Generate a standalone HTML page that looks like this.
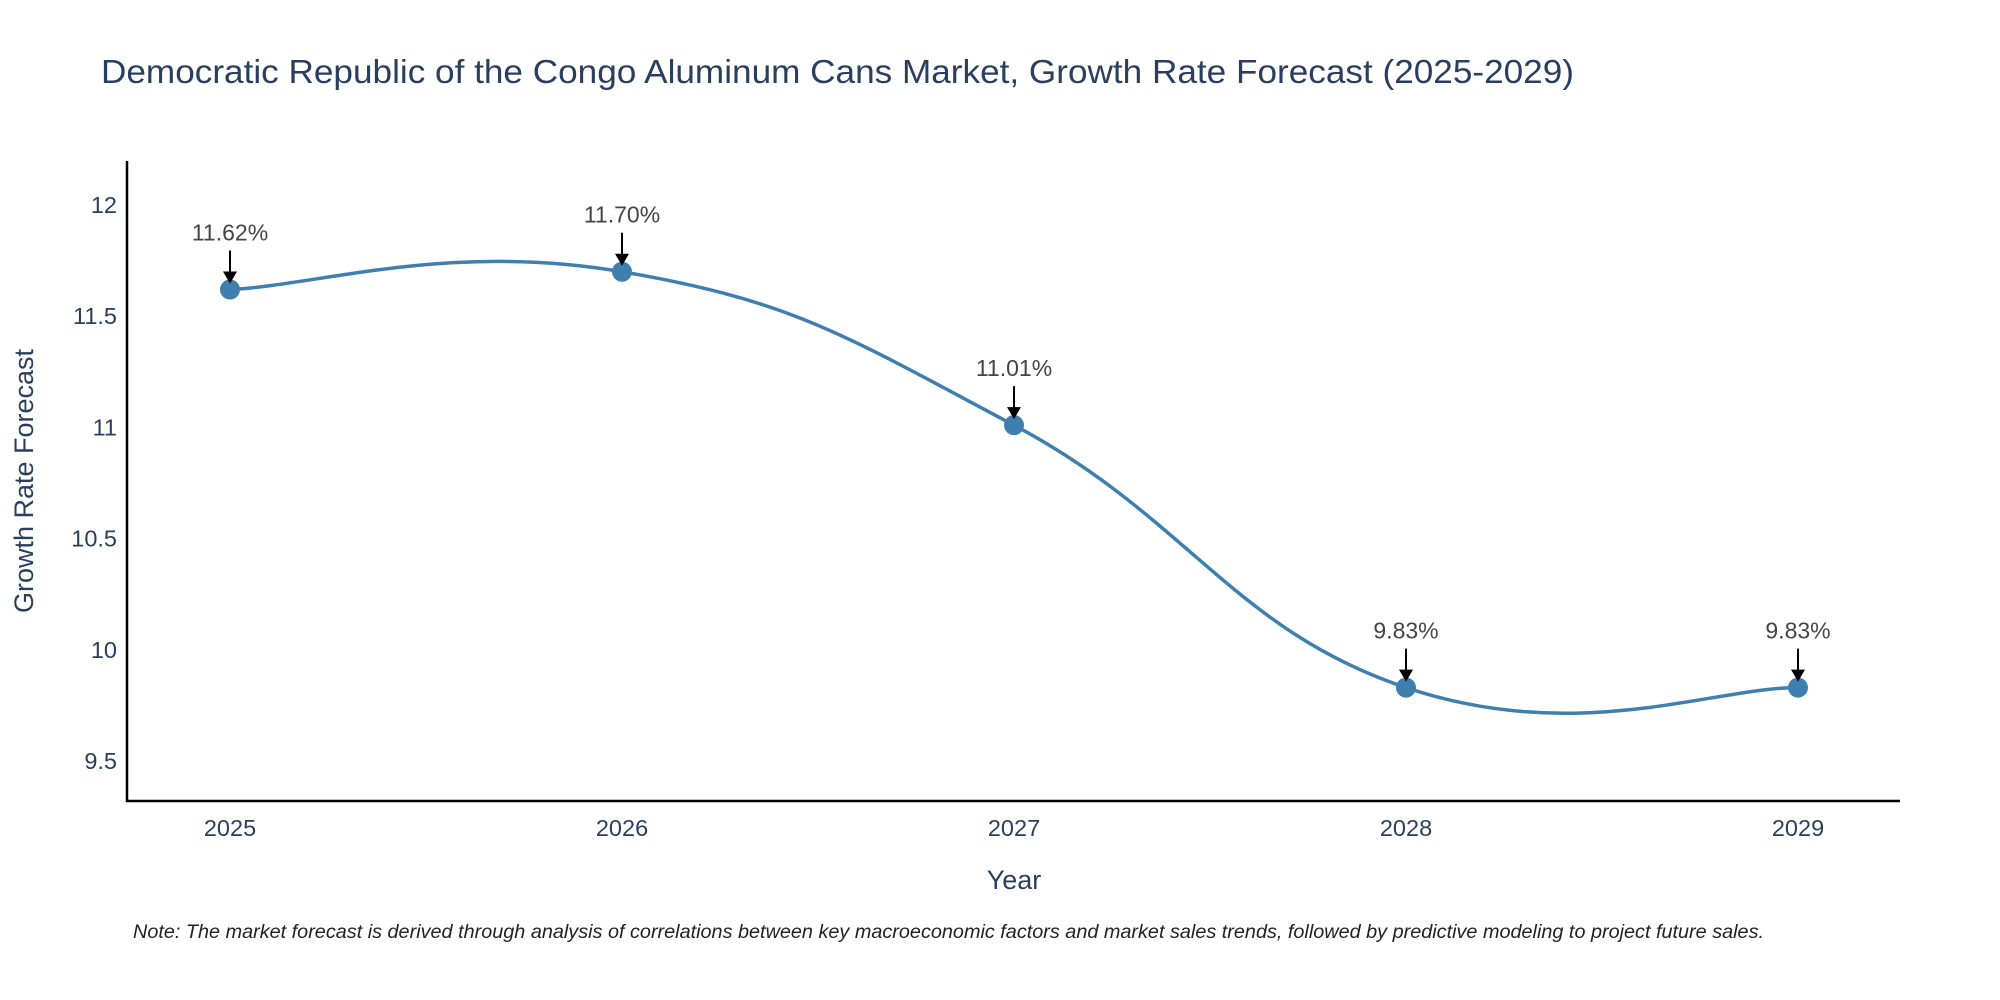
<!DOCTYPE html>
<html><head><meta charset="utf-8"><style>
html,body{margin:0;padding:0;background:#fff;}
svg{display:block;font-family:"Liberation Sans",sans-serif;}
</style></head><body>
<svg id="chart" width="2000" height="1000" viewBox="0 0 2000 1000">
<text x="101" y="83" font-size="33" fill="#2a3f5f" textLength="1473" lengthAdjust="spacingAndGlyphs">Democratic Republic of the Congo Aluminum Cans Market, Growth Rate Forecast (2025-2029)</text>
<g id="yticks"></g>
<g id="xticks"></g>
<line x1="127" y1="161" x2="127" y2="802" stroke="#000" stroke-width="2.5"/>
<line x1="126" y1="801" x2="1900" y2="801" stroke="#000" stroke-width="2.5"/>
<g id="series"></g>
<g id="annos"></g>
<text x="1014" y="889" font-size="27" fill="#2a3f5f" text-anchor="middle">Year</text>
<text transform="translate(33,481) rotate(-90)" font-size="27" fill="#2a3f5f" text-anchor="middle">Growth Rate Forecast</text>
<text x="133" y="938" font-size="19.5" font-style="italic" fill="#222" textLength="1631" lengthAdjust="spacingAndGlyphs">Note: The market forecast is derived through analysis of correlations between key macroeconomic factors and market sales trends, followed by predictive modeling to project future sales.</text>
</svg>
<script>
const categories = ["2025","2026","2027","2028","2029"];
const values = [11.62, 11.70, 11.01, 9.83, 9.83];
const valueLabels = ["11.62%","11.70%","11.01%","9.83%","9.83%"];
const yTicks = [9.5, 10, 10.5, 11, 11.5, 12];
const yTickLabels = ["9.5","10","10.5","11","11.5","12"];

const NS = "http://www.w3.org/2000/svg";
function xScale(i){ return 230 + i * 392; }
function yScale(v){ return 761 - (v - 9.5) * (556 / 2.5); }
function mk(tag, attrs, parent){
  const e = document.createElementNS(NS, tag);
  for (const k in attrs) e.setAttribute(k, attrs[k]);
  parent.appendChild(e);
  return e;
}
const yg = document.getElementById('yticks');
yTicks.forEach((t, i) => {
  const tx = mk('text', {x:117, y:yScale(t)+8, 'font-size':23.5, fill:'#2a3f5f', 'text-anchor':'end'}, yg);
  
  
  tx.textContent = yTickLabels[i];
});
const xg = document.getElementById('xticks');
categories.forEach((c, i) => {
  const tx = mk('text', {x:xScale(i), y:836, 'font-size':23.5, fill:'#2a3f5f', 'text-anchor':'middle'}, xg);
  
  
  tx.textContent = c;
});
const pts = values.map((v, i) => [xScale(i), yScale(v)]);
let d = "M" + pts[0][0] + "," + pts[0][1];
const t = 0.22;
for (let i = 0; i < pts.length - 1; i++) {
  const p0 = pts[Math.max(0, i-1)], p1 = pts[i], p2 = pts[i+1], p3 = pts[Math.min(pts.length-1, i+2)];
  const c1 = [p1[0] + (p2[0]-p0[0])*t, p1[1] + (p2[1]-p0[1])*t];
  const c2 = [p2[0] - (p3[0]-p1[0])*t, p2[1] - (p3[1]-p1[1])*t];
  d += " C" + c1[0] + "," + c1[1] + " " + c2[0] + "," + c2[1] + " " + p2[0] + "," + p2[1];
}
const sg = document.getElementById('series');
const path = mk('path', {d:d, fill:'none', stroke:'#3f7fb0', 'stroke-width':3.5}, sg);


const ag = document.getElementById('annos');
pts.forEach((p, i) => {
  const c = mk('circle', {cx:p[0], cy:p[1], r:10, fill:'#3f7fb0'}, sg);
  
  
  const ln = mk('line', {x1:p[0], y1:p[1]-39, x2:p[0], y2:p[1]-16, stroke:'#000', 'stroke-width':2}, ag);
  
  
  const hd = mk('path', {d:`M${p[0]-7},${p[1]-18} L${p[0]+7},${p[1]-18} L${p[0]},${p[1]-6} Z`, fill:'#000'}, ag);
  
  
  const tx = mk('text', {x:p[0], y:p[1]-49, 'font-size':23, fill:'#444', 'text-anchor':'middle'}, ag);
  
  
  tx.textContent = valueLabels[i];
});
</script>
</body></html>
